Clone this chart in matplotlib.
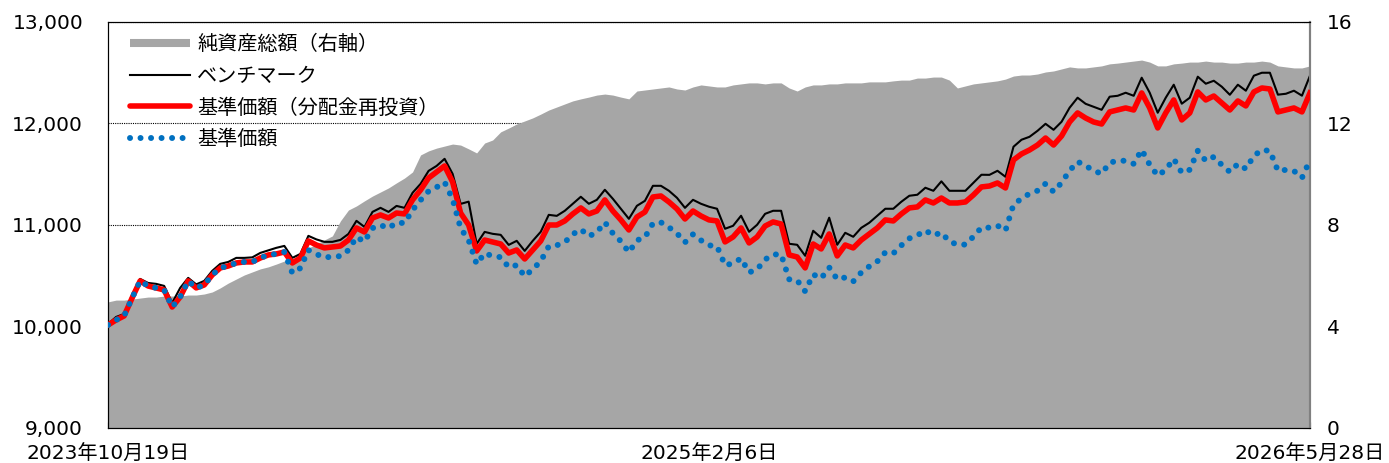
import matplotlib

matplotlib.use("Agg")
import matplotlib.pyplot as plt
from matplotlib.lines import Line2D
import numpy as np

plt.rcParams["font.family"] = ["DejaVu Sans", "Noto Sans CJK JP"]

date_labels = ["2023年10月19日", "2025年2月6日", "2026年5月28日"]

benchmark = [
    10025, 10094, 10124, 10311, 10469, 10429, 10420, 10400, 10232, 10380,
    10479, 10415, 10449, 10548, 10617, 10636, 10676, 10676, 10681, 10725,
    10750, 10775, 10794, 10676, 10715, 10893, 10858, 10834, 10834, 10853,
    10912, 11041, 10981, 11129, 11169, 11129, 11188, 11169, 11317, 11405,
    11533, 11582, 11652, 11504, 11208, 11230, 10814, 10932, 10913, 10903,
    10804, 10844, 10745, 10844, 10933, 11100, 11090, 11140, 11209, 11278,
    11209, 11248, 11347, 11258, 11160, 11061, 11189, 11238, 11386, 11386,
    11337, 11268, 11169, 11248, 11209, 11180, 11160, 10963, 10992, 11091,
    10933, 11002, 11110, 11140, 11140, 10815, 10805, 10697, 10943, 10874,
    11072, 10805, 10923, 10884, 10972, 11022, 11091, 11160, 11160, 11229,
    11288, 11298, 11367, 11337, 11430, 11337, 11337, 11337, 11416, 11495,
    11494, 11534, 11475, 11771, 11840, 11869, 11928, 11997, 11938, 12017,
    12155, 12254, 12194, 12165, 12135, 12264, 12273, 12303, 12273, 12451,
    12303, 12106, 12254, 12382, 12195, 12254, 12461, 12392, 12421, 12362,
    12283, 12382, 12323, 12471, 12500, 12500, 12284, 12293, 12323, 12274,
    12471,
]

nav_reinvested = [
    10015, 10064, 10104, 10281, 10449, 10399, 10380, 10360, 10192, 10291,
    10449, 10380, 10409, 10508, 10577, 10596, 10626, 10636, 10636, 10675,
    10705, 10715, 10734, 10626, 10675, 10843, 10803, 10774, 10784, 10793,
    10852, 10971, 10931, 11069, 11099, 11069, 11118, 11109, 11247, 11345,
    11463, 11522, 11582, 11424, 11118, 11000, 10744, 10852, 10833, 10813,
    10724, 10754, 10665, 10754, 10843, 11000, 11000, 11040, 11109, 11168,
    11109, 11138, 11247, 11138, 11050, 10951, 11079, 11128, 11276, 11286,
    11227, 11158, 11059, 11138, 11089, 11050, 11040, 10833, 10882, 10971,
    10823, 10882, 10990, 11030, 11010, 10705, 10685, 10577, 10813, 10764,
    10912, 10695, 10803, 10774, 10852, 10912, 10971, 11050, 11040, 11109,
    11168, 11178, 11247, 11217, 11266, 11217, 11217, 11227, 11296, 11375,
    11384, 11414, 11365, 11641, 11700, 11739, 11788, 11857, 11788, 11877,
    12015, 12104, 12054, 12015, 11995, 12114, 12133, 12153, 12133, 12301,
    12153, 11956, 12104, 12232, 12035, 12104, 12311, 12232, 12271, 12202,
    12133, 12222, 12173, 12311, 12350, 12340, 12114, 12133, 12153, 12114,
    12301,
]

nav = [
    10015, 10064, 10104, 10281, 10449, 10399, 10380, 10360, 10192, 10291,
    10449, 10380, 10409, 10508, 10577, 10596, 10626, 10636, 10636, 10675,
    10705, 10715, 10734, 10526, 10575, 10753, 10713, 10679, 10689, 10693,
    10752, 10881, 10836, 10969, 10999, 10969, 11023, 11019, 11147, 11245,
    11333, 11372, 11422, 11254, 10968, 10850, 10614, 10722, 10693, 10683,
    10584, 10604, 10495, 10564, 10643, 10790, 10800, 10830, 10909, 10958,
    10889, 10928, 11027, 10918, 10840, 10731, 10849, 10878, 11016, 11026,
    10977, 10918, 10829, 10908, 10849, 10800, 10790, 10603, 10622, 10671,
    10533, 10562, 10660, 10710, 10710, 10465, 10455, 10347, 10513, 10474,
    10582, 10465, 10483, 10444, 10532, 10592, 10641, 10730, 10720, 10799,
    10868, 10898, 10947, 10897, 10926, 10837, 10807, 10807, 10886, 10975,
    10974, 10994, 10945, 11201, 11260, 11309, 11338, 11407, 11328, 11417,
    11535, 11624, 11584, 11535, 11505, 11614, 11633, 11633, 11603, 11741,
    11593, 11486, 11544, 11652, 11515, 11544, 11731, 11632, 11671, 11592,
    11523, 11602, 11553, 11681, 11740, 11730, 11534, 11543, 11533, 11464,
    11641,
]

net_assets = [
    4.97, 5.04, 5.04, 5.08, 5.12, 5.16, 5.16, 5.20, 5.20, 5.20,
    5.24, 5.24, 5.28, 5.36, 5.52, 5.71, 5.87, 6.03, 6.15, 6.27,
    6.35, 6.46, 6.58, 6.66, 6.86, 7.09, 7.25, 7.41, 7.57, 8.16,
    8.59, 8.75, 8.95, 9.14, 9.30, 9.46, 9.66, 9.85, 10.09, 10.76,
    10.92, 11.03, 11.11, 11.19, 11.15, 11.00, 10.84, 11.23, 11.35, 11.67,
    11.82, 11.98, 12.10, 12.22, 12.37, 12.53, 12.65, 12.77, 12.89, 12.97,
    13.04, 13.12, 13.16, 13.12, 13.04, 12.97, 13.28, 13.32, 13.36, 13.40,
    13.44, 13.36, 13.32, 13.44, 13.52, 13.48, 13.44, 13.44, 13.52, 13.56,
    13.60, 13.60, 13.56, 13.60, 13.60, 13.40, 13.28, 13.44, 13.52, 13.52,
    13.56, 13.56, 13.60, 13.60, 13.60, 13.64, 13.64, 13.64, 13.68, 13.71,
    13.71, 13.79, 13.79, 13.83, 13.83, 13.71, 13.40, 13.48, 13.56, 13.60,
    13.64, 13.68, 13.75, 13.87, 13.91, 13.91, 13.95, 14.03, 14.07, 14.15,
    14.23, 14.19, 14.19, 14.23, 14.27, 14.35, 14.38, 14.42, 14.46, 14.50,
    14.42, 14.27, 14.27, 14.35, 14.38, 14.42, 14.42, 14.46, 14.42, 14.42,
    14.38, 14.38, 14.42, 14.42, 14.46, 14.42, 14.27, 14.23, 14.19, 14.19,
    14.27,
]

labels = ["純資産総額（右軸）", "ベンチマーク", "基準価額（分配金再投資）", "基準価額"]

GRAY = "#a6a6a6"
RED = "#ff0000"
BLUE = "#0070c0"

x = np.arange(len(nav))
n = len(nav)

fig = plt.figure(figsize=(13.89, 4.63), dpi=100)
ax2 = fig.add_axes([0.0778, 0.0756, 0.8653, 0.8769])
ax = ax2.twinx()
ax.yaxis.tick_left()
ax2.yaxis.tick_right()

# right axis: net assets area + grid (grid sits behind the area)
ax2.fill_between(x, 0, net_assets, color=GRAY, lw=0, zorder=1)
ax2.set_ylim(0, 16)
ax2.set_yticks([0, 4, 8, 12, 16])
ax2.yaxis.grid(True, color="black", linestyle=(0, (1, 1)), linewidth=0.8)
ax2.set_axisbelow(True)
ax2.tick_params(axis="y", direction="in", length=5, color="#808080",
                labelsize=14.5, pad=12, labelright=True, labelleft=False)

# left axis: price lines
ax.plot(x, benchmark, color="black", lw=1.5, zorder=2)
ax.plot(x, nav_reinvested, color=RED, lw=4, zorder=3, solid_joinstyle="round")
ax.plot(x, nav, color=BLUE, lw=4.3, linestyle=(0, (0.01, 1.75)),
        dash_capstyle="round", zorder=4)
ax.set_ylim(9000, 13000)
ax.set_yticks([9000, 10000, 11000, 12000, 13000])
ax.set_yticklabels([f"{v:,}" for v in [9000, 10000, 11000, 12000, 13000]])
ax.tick_params(axis="y", length=0, labelsize=14.5, pad=18,
               labelleft=True, labelright=False)

ax2.set_xlim(0, n - 1)
ax2.set_xticks([0, (n - 1) / 2, n - 1])
ax2.set_xticklabels(date_labels)
ax2.tick_params(axis="x", direction="in", length=4, labelsize=14.5, pad=12)

ax.set_zorder(ax2.get_zorder() + 1)
ax.patch.set_visible(False)

for a in (ax, ax2):
    a.spines["left"].set_color("black")
    a.spines["bottom"].set_color("black")
    a.spines["top"].set_color("black")
    a.spines["top"].set_linewidth(0.8)
    a.spines["right"].set_color("#808080")
    a.spines["right"].set_linewidth(1.5)

handles = [
    Line2D([], [], color=GRAY, lw=5.8, solid_capstyle="butt"),
    Line2D([], [], color="black", lw=1.5),
    Line2D([], [], color=RED, lw=4, solid_capstyle="round"),
    Line2D([], [], color=BLUE, lw=4.3, linestyle=(0, (0.01, 1.75)), dash_capstyle="round"),
]
ax.legend(handles, labels, loc="upper left", bbox_to_anchor=(0.018, 0.968),
          frameon=False, fontsize=14.5, handlelength=3.0, handletextpad=0.35,
          labelspacing=0.62, borderaxespad=0, borderpad=0)

fig.savefig("out.png", dpi=100)
